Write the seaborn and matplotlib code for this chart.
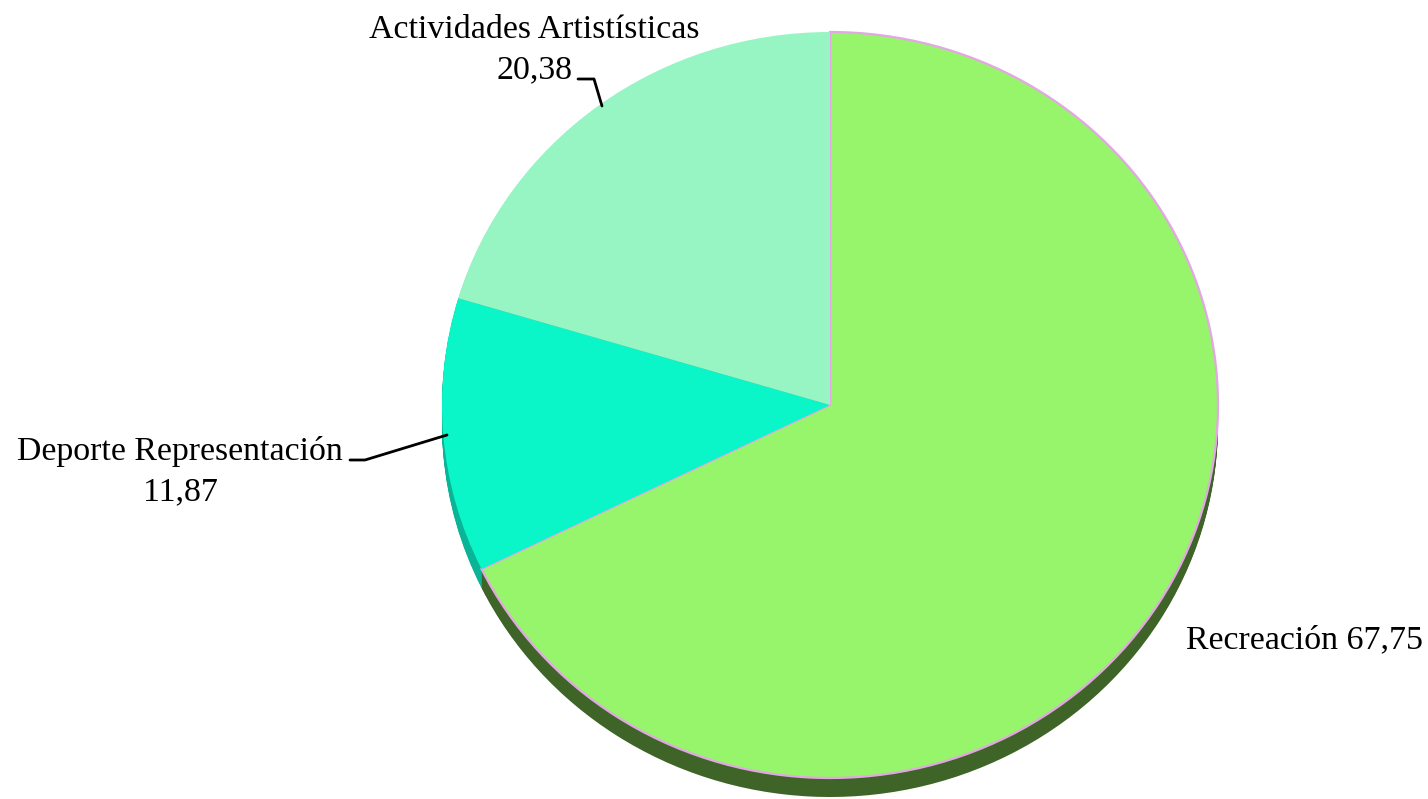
import numpy as np
import pandas as pd
import matplotlib
matplotlib.use("Agg")
import matplotlib.pyplot as plt
import seaborn as sns

# Data
categorias = ['Recreación', 'Deporte Representación', 'Actividades Artistísticas']
valores = [67.75, 11.87, 20.38]
colores = ['#96F56A', '#0AF5C8', '#96F5C3']
colores_lado = ['#3E6428', '#0AB496', '#64B48C']

df = pd.DataFrame({'categoria': categorias, 'valor': valores})

sns.set_theme(style="white")
plt.rcParams['font.family'] = ['Liberation Serif', 'DejaVu Serif']

W, H = 1428, 799
fig = plt.figure(figsize=(W / 100, H / 100), dpi=100)
ax = fig.add_axes([0, 0, 1, 1])

# pie is slightly flattened (3D tilt): horizontal radius 388px, vertical 373px
rx, ry = 388, 373
sy = rx / ry
cx, cy = 830, 405
depth = 19

def px(x, y):
    # pixel coords (top-left origin) -> data coords
    return x, (H - y) * sy

# side (depth) of the pie
for k in range(depth, 0, -1):
    ax.pie(df['valor'], colors=colores_lado, startangle=90, counterclock=False,
           radius=rx, center=px(cx, cy + k), frame=True,
           wedgeprops=dict(linewidth=0))

wedges, _ = ax.pie(df['valor'], colors=colores, startangle=90, counterclock=False,
                   radius=rx, center=px(cx, cy), frame=True,
                   wedgeprops=dict(linewidth=0))
wedges[0].set_edgecolor('#E4A6E4')
wedges[0].set_linewidth(1.6)
ax.set_aspect('auto')
ax.set_xlim(0, W)
ax.set_ylim(0, H * sy)
ax.axis('off')

fs = 24.4
fmt = lambda v: f"{v:.2f}".replace('.', ',')

def texto(xp, yp, s, ha='center'):
    x, y = px(xp, yp)
    ax.text(x, y, s, ha=ha, va='baseline', fontsize=fs, color='black')

# labels
texto(534, 38, categorias[2])
texto(534, 78, fmt(valores[2]))
texto(180, 460, categorias[1])
texto(180, 500, fmt(valores[1]))
texto(1186, 648, f"{categorias[0]} {fmt(valores[0])}", ha='left')

# leader lines
for pts in ([(578, 79), (594, 79), (602, 106)], [(350, 460), (365, 460), (447, 435)]):
    xs, ys = zip(*[px(a, b) for a, b in pts])
    ax.plot(xs, ys, color='black', lw=2)

fig.savefig('out.png', dpi=100, facecolor='white')
